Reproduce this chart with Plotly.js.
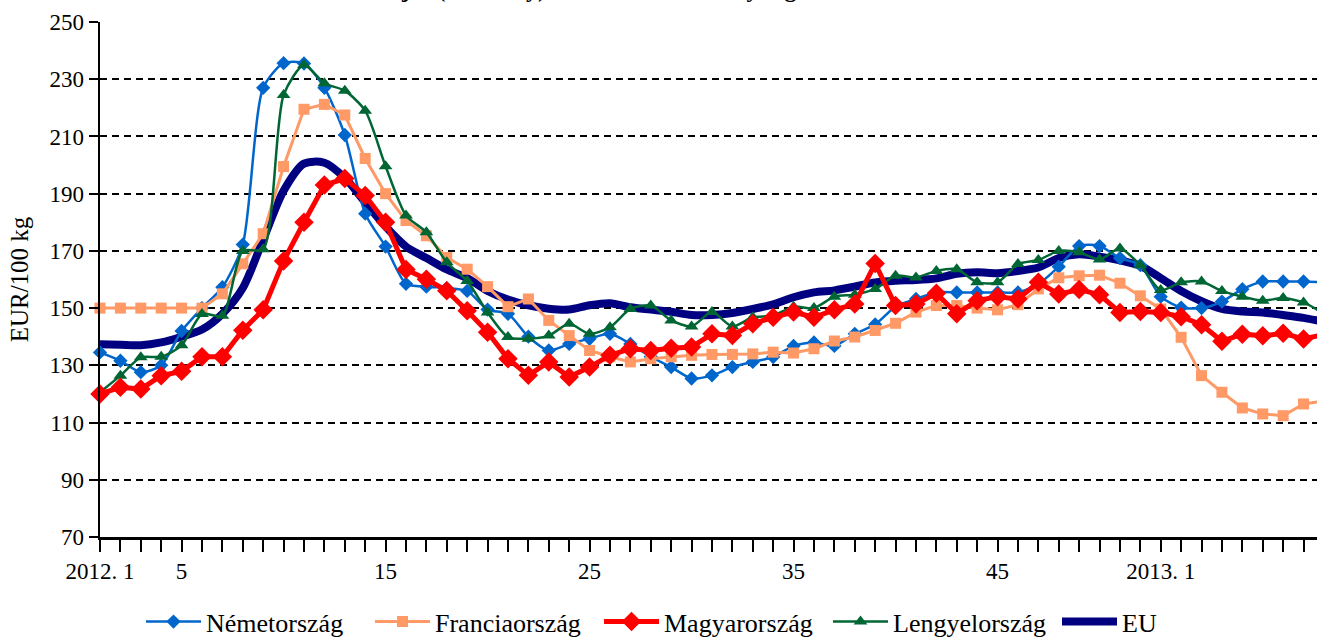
<!DOCTYPE html>
<html>
<head>
<meta charset="utf-8">
<script src="https://cdn.plot.ly/plotly-3.0.1.min.js"></script>
<style>html,body{margin:0;padding:0;background:#fff;}#chart{width:1317px;height:637px;}</style>
</head>
<body>
<div id="chart"></div>
<script>
// Week index 0 = 2012. 1 ... 52 = 2013. 1
var weeks = [];
for (var i = 0; i <= 60; i++) weeks.push(i);

var tickLabels = {0: "2012. 1", 4: "5", 14: "15", 24: "25", 34: "35", 44: "45", 52: "2013. 1"};

var nemetorszag = [134.5,131.6,127.6,130,142,150,157.3,172.2,227,235.6,235.5,227,210.5,183,171.5,158.5,157.5,157,156,149.5,148,140,135.2,137.5,139.3,141,137.5,133,129.4,125.4,126.5,129.4,131.2,132.9,136.8,138,136.8,141,144.3,150.5,153.2,155.5,155.5,155.5,155.5,155.5,158.4,164.5,171.7,171.7,167.5,165,154,150.2,150,152.3,156.6,159.3,159.3,159.3,159];
var franciaorszag = [150,150,150,150,150,150,155,165.5,176,199.5,219.5,221.2,217.5,202.3,190,180.6,175.3,167.7,163.6,157.5,150.5,153.2,145.7,140.4,135.2,133,131.2,132.3,133,133.5,133.8,133.8,134,134.6,134.3,135.8,138.5,139.9,142.2,144.7,148.6,150.9,150.9,150,149.4,151.2,156.7,160.6,161.3,161.5,158.7,154.3,149.7,139.8,126.4,120.6,115.1,113,112.4,116.5,117.5];
var magyarorszag = [120,122.3,121.7,126.4,127.9,133,133,142.3,149.4,166.5,180,193,195.3,189.4,180,163.5,160.1,156.1,149.1,141.6,132.3,126.5,131.2,125.9,129.4,133.5,135.8,135.2,136,136.4,141,140.4,144.5,146.8,148.6,146.8,149.4,151.4,165.6,150.9,151.4,155.2,148,152.6,154,153.2,159,154.9,156.5,154.7,148.5,148.8,148.5,147,144.2,138.4,140.9,140.3,141.2,139.2,140.8];
var lengyelorszag = [120.6,126.4,132.8,133,137,147.9,147.3,170,170.6,224.5,235,228.6,226,219,199.6,182.4,176.5,166,159.5,148.5,139.9,139.3,140.4,144.5,141,143.3,149.7,150.9,145.7,143.6,148.6,143.6,146.8,147.4,150.5,150,154,154.7,156.7,161.3,160.7,163,163.6,159,159,165.4,166.8,170,169.5,167,170.8,165,156.3,159,159.3,156,154,152.6,153.5,152,148];
var eu = [137.4,137.2,137,138,140,142.5,148,157,174,191,200.5,200.8,195.5,187,178.5,171.5,167.5,163.5,160.5,156,153,151,149.8,149.5,151,151.7,150.3,149.5,148.7,147.6,147.6,148.3,149.7,151.3,153.8,155.5,156.2,157.5,159,159.6,159.8,160.4,162,162.5,162.2,163,164.2,167.5,168.8,168,166.7,164.8,160.5,156,152.4,149.7,148.8,148.5,147.6,146.6,145.2];

var tickvals = weeks.slice();
var ticktext = weeks.map(function (w) { return tickLabels[w] !== undefined ? tickLabels[w] : ""; });

var FONT = "'Liberation Serif', 'Times New Roman', serif";

var traces = [
  {name: "EU", x: weeks, y: eu, mode: "lines", line: {color: "#000080", width: 8, shape: "spline", smoothing: 0.8}, cliponaxis: false, legendrank: 5},
  {name: "Németország", x: weeks, y: nemetorszag, mode: "lines+markers", line: {color: "#0066CC", width: 2.5, shape: "spline", smoothing: 0.7}, marker: {symbol: "diamond", size: 11, color: "#0066CC"}, cliponaxis: false, legendrank: 1},
  {name: "Franciaország", x: weeks, y: franciaorszag, mode: "lines+markers", line: {color: "#FF9966", width: 3}, marker: {symbol: "square", size: 11, color: "#FF9966"}, cliponaxis: false, legendrank: 2},
  {name: "Lengyelország", x: weeks, y: lengyelorszag, mode: "lines+markers", line: {color: "#006633", width: 2.5, shape: "spline", smoothing: 0.7}, marker: {symbol: "triangle-up", size: 12, color: "#006633"}, cliponaxis: false, legendrank: 4},
  {name: "Magyarország", x: weeks, y: magyarorszag, mode: "lines+markers", line: {color: "#FF0000", width: 5}, marker: {symbol: "diamond", size: 15, color: "#FF0000"}, cliponaxis: false, legendrank: 3}
];

var layout = {
  width: 1317, height: 637,
  margin: {l: 100, r: 0, t: 22, b: 100},
  paper_bgcolor: "#ffffff", plot_bgcolor: "#ffffff",
  font: {family: FONT, size: 23, color: "#000000"},
  showlegend: true,
  legend: {orientation: "h", xref: "container", yref: "container", x: 141 / 1317, xanchor: "left", y: 0.024, yanchor: "middle",
           font: {family: FONT, size: 26, color: "#000"}, itemwidth: 55, entrywidth: 159, entrywidthmode: "pixels", traceorder: "normal"},
  annotations: [{
    text: "<b>Az étkezési tojás (A osztály) termelői ára néhány tagállamban és az EU-ban</b>",
    xref: "paper", yref: "paper", x: 0.45, y: 1, xanchor: "center", yanchor: "bottom", yshift: 18,
    showarrow: false, font: {family: FONT, size: 24, color: "#000"}
  }],
  xaxis: {
    range: [0, 59.66], tickmode: "array", tickvals: tickvals, ticktext: ticktext,
    showgrid: false, zeroline: false, showline: true, linecolor: "#000", linewidth: 2.5,
    ticks: "outside", ticklen: 12, tickwidth: 2, tickcolor: "#000", ticklabelstandoff: 0,
    tickfont: {family: FONT, size: 23, color: "#000"}, tickangle: 0
  },
  yaxis: {
    range: [70, 250], tickmode: "linear", tick0: 70, dtick: 20,
    showgrid: true, gridcolor: "#000", gridwidth: 2, griddash: "7px,5px",
    zeroline: false, showline: true, linecolor: "#000", linewidth: 2.5,
    ticks: "outside", ticklen: 9, tickwidth: 2, tickcolor: "#000",
    tickfont: {family: FONT, size: 23, color: "#000"},
    title: {text: "EUR/100 kg", font: {family: FONT, size: 25, color: "#000"}, standoff: 14}
  }
};

Plotly.newPlot("chart", traces, layout, {displayModeBar: false, staticPlot: true});
</script>
</body>
</html>
